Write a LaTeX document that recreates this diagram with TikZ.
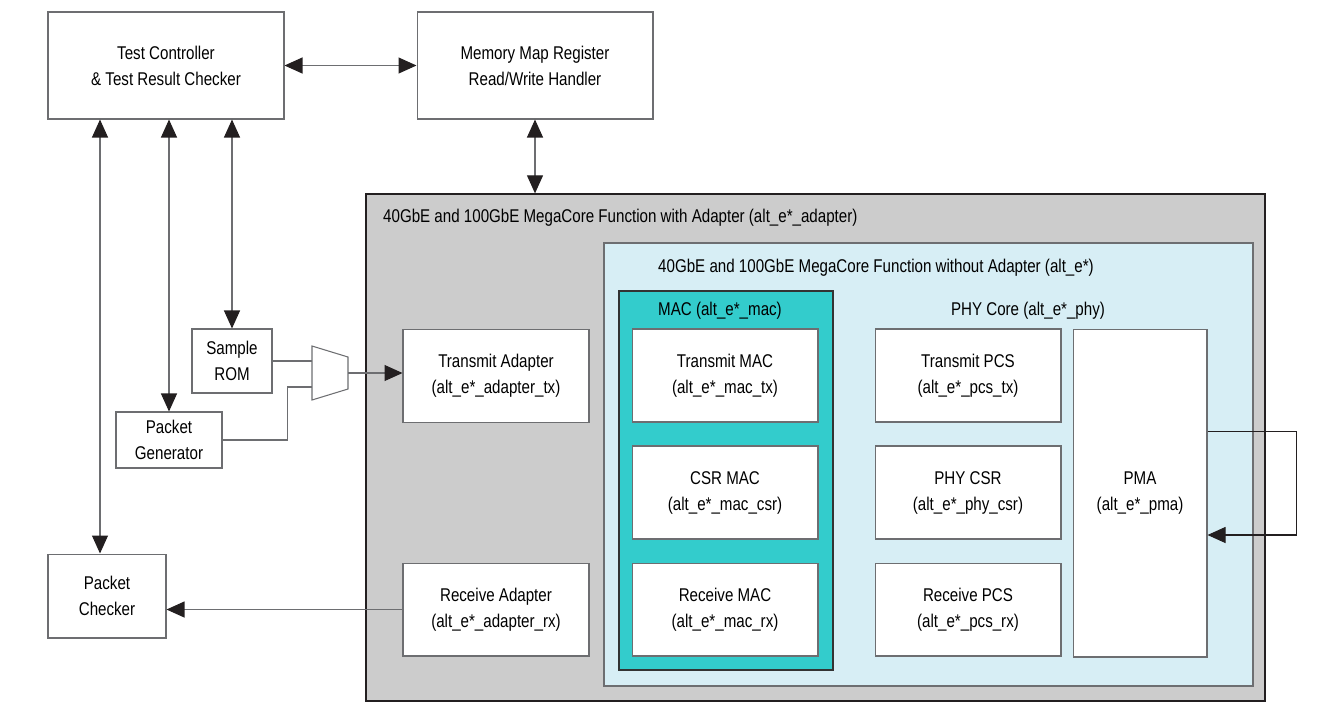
\documentclass[tikz,border=0pt]{standalone}
\usepackage{fontspec}
\setmainfont{Liberation Sans}[FakeStretch=0.82]
\usetikzlibrary{arrows.meta}

\definecolor{adaptgray}{HTML}{CCCCCC}
\definecolor{coreblue}{HTML}{D7EEF5}
\definecolor{macteal}{HTML}{33CCCC}
\definecolor{linegray}{HTML}{6D6E71}
\definecolor{tipblack}{HTML}{231F20}

\tikzset{
  block/.style={draw=linegray, fill=white, line width=0.6pt, inner sep=0pt, align=center,
    minimum width=3.72cm, minimum height=1.86cm},
  frame/.style={draw=tipblack, line width=0.8pt, inner sep=0pt},
  wire/.style={draw=linegray, line width=0.6pt},
  oneway/.style={wire, -{Triangle[length=3.6mm, width=3.2mm, color=tipblack]}},
  twoway/.style={wire, {Triangle[length=3.6mm, width=3.2mm, color=tipblack]}-{Triangle[length=3.6mm, width=3.2mm, color=tipblack]}}
}

\begin{document}
\begin{tikzpicture}[x=0.02cm, y=-0.02cm, font=\fontsize{10.5pt}{14.8pt}\selectfont]
    \useasboundingbox (0,0) rectangle (1334,725);

    % MegaCore with adapter
    \node (adapter) [frame, fill=adaptgray, minimum width=17.98cm, minimum height=10.14cm, at={(815.5,447.5)}] {};
    \node (adapterlbl) [anchor=west, at={(377,218)}] {40GbE and 100GbE MegaCore Function with Adapter (alt\_e*\_adapter)};

    % MegaCore without adapter
    \node (core) [frame, draw=linegray, fill=coreblue, minimum width=12.98cm, minimum height=8.86cm, at={(928.5,464.5)}] {};
    \node (corelbl) [anchor=west, at={(652,268)}] {40GbE and 100GbE MegaCore Function without Adapter (alt\_e*)};

    % MAC
    \node (mac) [frame, draw=black!80, fill=macteal, minimum width=4.28cm, minimum height=7.58cm, at={(726,480.5)}] {};
    \node (maclbl) [at={(720,311)}] {MAC (alt\_e*\_mac)};
    \node (txmac) [block, at={(725,375.5)}] {Transmit MAC\\(alt\_e*\_mac\_tx)};
    \node (csrmac) [block, at={(725,492.5)}] {CSR MAC\\(alt\_e*\_mac\_csr)};
    \node (rxmac) [block, at={(725,609.5)}] {Receive MAC\\(alt\_e*\_mac\_rx)};

    % PHY
    \node (phylbl) [at={(1028,311)}] {PHY Core (alt\_e*\_phy)};
    \node (txpcs) [block, at={(968,375.5)}] {Transmit PCS\\(alt\_e*\_pcs\_tx)};
    \node (phycsr) [block, at={(968,492.5)}] {PHY CSR\\(alt\_e*\_phy\_csr)};
    \node (rxpcs) [block, at={(968,609.5)}] {Receive PCS\\(alt\_e*\_pcs\_rx)};
    \node (pma) [block, minimum width=2.68cm, minimum height=6.56cm, at={(1140,493)}] {PMA\\(alt\_e*\_pma)};

    % adapters
    \node (txadp) [block, at={(496,376)}] {Transmit Adapter\\(alt\_e*\_adapter\_tx)};
    \node (rxadp) [block, at={(496,609.5)}] {Receive Adapter\\(alt\_e*\_adapter\_rx)};

    % testbench
    \node (tc) [block, minimum width=4.72cm, minimum height=2.14cm, at={(166,65.5)}] {Test Controller\\\& Test Result Checker};
    \node (mmap) [block, minimum width=4.72cm, minimum height=2.14cm, at={(535,65.5)}] {Memory Map Register\\Read/Write Handler};
    \node (pchk) [block, minimum width=2.36cm, minimum height=1.68cm, at={(107,596)}] {Packet\\Checker};
    \node (srom) [block, minimum width=1.6cm, minimum height=1.28cm, at={(232,361)}] {Sample\\ROM};
    \node (pgen) [block, minimum width=2.12cm, minimum height=1.12cm, at={(169,440)}] {Packet\\Generator};

    % mux
    \draw[wire, fill=white] (312,346) -- (348,357) -- (348,389) -- (312,400) -- cycle;
    \coordinate (muxina) at (312,361);
    \coordinate (muxinb) at (312,387);
    \coordinate (muxout) at (348,373);

    \draw[twoway] (tc) -- (mmap);
    \draw[twoway] (mmap) -- (mmap.south |- adapter.north);
    \draw[twoway] ([xshift=-0.14cm]pchk.north |- tc.south) -- ([xshift=-0.14cm]pchk.north);
    \draw[twoway] (pgen.north |- tc.south) -- (pgen.north);
    \draw[twoway] (srom.north |- tc.south) -- (srom.north);
    \draw[wire] (srom.east) -- (muxina);
    \draw[wire] (pgen.east) -- ++(65,0) |- (muxinb);
    \draw[oneway] (muxout) -- (muxout -| txadp.west);
    \draw[oneway] (rxadp.west) -- (rxadp.west -| pchk.east);
    % loopback
    \draw[oneway, draw=tipblack] ([yshift=1.24cm]pma.east) -- ++(89,0) |- ([yshift=-0.84cm]pma.east);
\end{tikzpicture}
\end{document}
